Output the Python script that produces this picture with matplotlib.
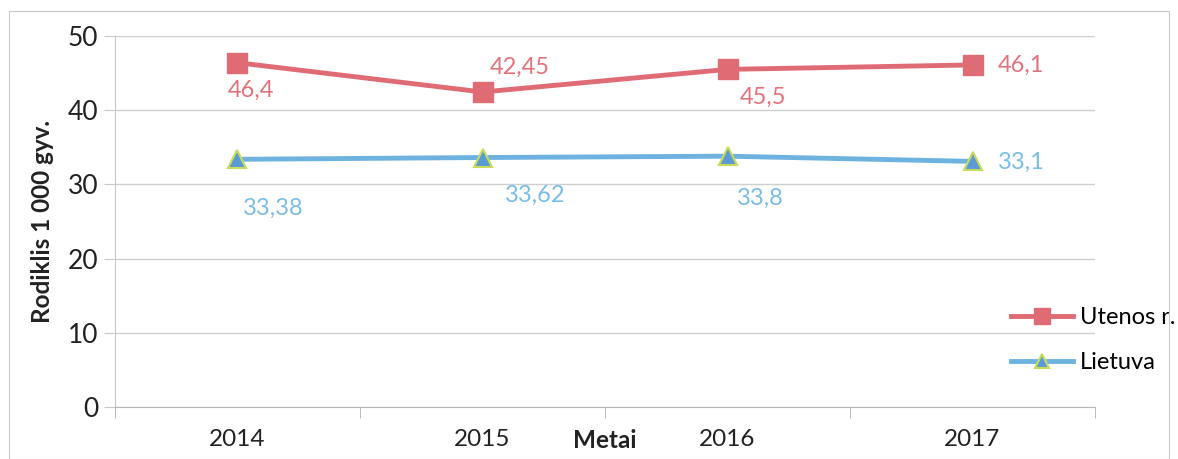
import matplotlib
matplotlib.use("Agg")
import matplotlib.pyplot as plt
import numpy as np

# Rodiklis 1 000 gyv. pagal metus
metai = ["2014", "2015", "2016", "2017"]
utenos = [46.4, 42.45, 45.5, 46.1]
lietuva = [33.38, 33.62, 33.8, 33.1]
utenos_lbl = ["46,4", "42,45", "45,5", "46,1"]
lietuva_lbl = ["33,38", "33,62", "33,8", "33,1"]

RED = "#df6b74"
BLUE = "#6eb2e0"
RED_TXT = "#e3737b"
BLUE_TXT = "#79bde6"

plt.rcParams["font.family"] = ["Lato", "DejaVu Sans"]

fig = plt.figure(figsize=(11.78, 4.59), dpi=100)
fig.patches.append(plt.Rectangle((0.008, 0.0), 0.984, 0.976, transform=fig.transFigure,
                                 fill=False, edgecolor="#c8c8c8", linewidth=0.8))
ax = fig.add_axes([0.0976, 0.1133, 0.832, 0.8083])

x = np.arange(len(metai))
ax.plot(x, utenos, color=RED, lw=3.5, marker="s", markersize=14,
        markerfacecolor=RED, markeredgecolor=RED, label="Utenos r.", zorder=3)
ax.plot(x, lietuva, color=BLUE, lw=3.5, marker="^", markersize=13,
        markerfacecolor="#5b9bd5", markeredgecolor="#c8dc5a", markeredgewidth=1.5,
        label="Lietuva", zorder=3)

# duomenų žymos
u_off = [(-7, -20), (5, 18), (9, -20), (18, 0)]
for i, (v, t) in enumerate(zip(utenos, utenos_lbl)):
    ax.annotate(t, (x[i], v), xytext=u_off[i], textcoords="offset points",
                ha="left", va="center", color=RED_TXT, fontsize=17)
l_off = [(4, -35), (16, -27), (7, -30), (18, -1)]
for i, (v, t) in enumerate(zip(lietuva, lietuva_lbl)):
    ax.annotate(t, (x[i], v), xytext=l_off[i], textcoords="offset points",
                ha="left", va="center", color=BLUE_TXT, fontsize=17)

ax.set_xlim(-0.5, 3.5)
ax.set_ylim(0, 50)
ax.set_yticks(range(0, 51, 10))
ax.set_xticks(x)
ax.set_xticklabels(metai)
ax.set_xticks(np.arange(-0.5, 3.6, 1), minor=True)
ax.tick_params(axis="x", which="major", length=0, labelsize=17.5, pad=16, colors="#222222")
ax.tick_params(axis="x", which="minor", length=8, color="#b0b0b0", direction="out")
ax.tick_params(axis="y", length=8, color="#c8c8c8", labelsize=19, pad=4, labelcolor="#222222")
ax.grid(axis="y", color="#cfcfcf", lw=1)
for s in ["top", "right"]:
    ax.spines[s].set_visible(False)
ax.spines["left"].set_color("#c8c8c8")
ax.spines["bottom"].set_color("#b8b8b8")

ax.set_ylabel("Rodiklis 1 000 gyv.", fontsize=17.5, fontweight="bold", color="#222222", labelpad=10)
ax.text(1.5, -0.089, "Metai", transform=ax.get_xaxis_transform(), ha="center", va="center",
        fontsize=17.5, fontweight="bold", color="#222222")

ax.legend(loc="center left", bbox_to_anchor=(0.905, 0.18), frameon=False, fontsize=17,
          handlelength=2.6, labelspacing=1.0, handletextpad=0.3, borderaxespad=0,
          markerscale=0.8)

fig.savefig("out.png", dpi=100)
